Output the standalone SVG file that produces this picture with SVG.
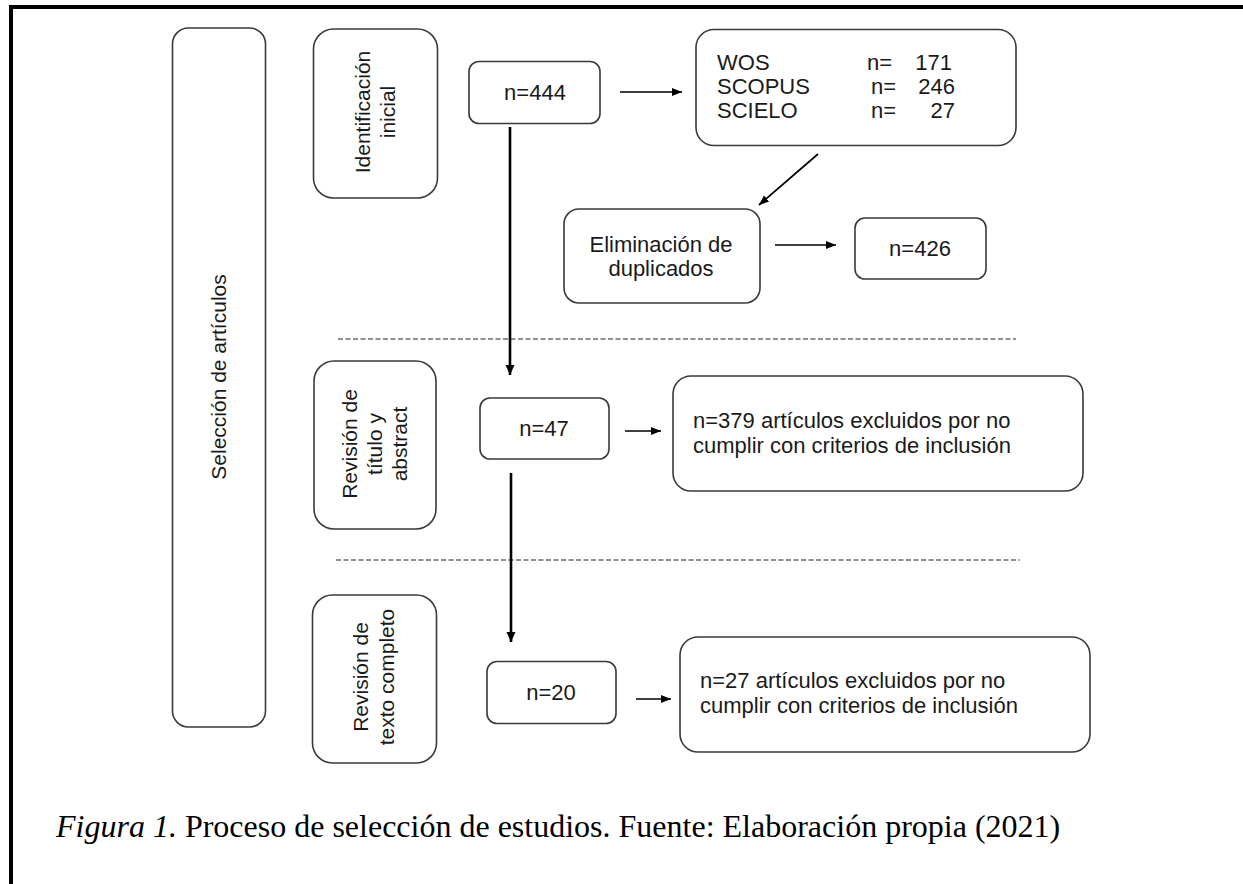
<svg xmlns="http://www.w3.org/2000/svg" width="1243" height="884" viewBox="0 0 1243 884">
  <style>
    .box { fill: #ffffff; stroke: #3a3a3a; stroke-width: 1.6; }
    .t { font-family: "Liberation Sans", Arial, sans-serif; font-size: 22px; fill: #1a1a1a; }
    .r { font-size: 21px; }
    .c { text-anchor: middle; }
    .conn { stroke: #000; fill: none; }
    .thin { stroke-width: 1.7; }
    .thick { stroke-width: 2.6; }
    .dash { stroke: #222; stroke-width: 1.2; stroke-dasharray: 5 2.5; fill: none; }
    .cap { font-family: "Liberation Serif", "Times New Roman", serif; font-size: 32px; fill: #000; }
  </style>
  <defs>
    <marker id="ah" markerUnits="userSpaceOnUse" markerWidth="12" markerHeight="10" refX="10" refY="5" orient="auto">
      <path d="M0,1 L10,5 L0,9 Z" fill="#000"/>
    </marker>
    <marker id="ahv" markerUnits="userSpaceOnUse" markerWidth="12" markerHeight="12" refX="10" refY="5" orient="auto">
      <path d="M0,0.5 L10,5 L0,9.5 Z" fill="#000"/>
    </marker>
  </defs>
  <rect x="0" y="0" width="1243" height="884" fill="#fff"/>
  <g id="frame">
    <rect x="9" y="5" width="1234" height="4" fill="#000"/>
    <rect x="9" y="5" width="4" height="879" fill="#000"/>
  </g>

  <g id="connectors">
    <line class="dash" x1="338" y1="339" x2="1016" y2="339"/>
    <line class="dash" x1="336" y1="560" x2="1020" y2="560"/>
    <line class="conn thin" x1="620" y1="92" x2="682" y2="92" marker-end="url(#ah)"/>
    <line class="conn thin" x1="818" y1="154" x2="759" y2="205" marker-end="url(#ah)"/>
    <line class="conn thin" x1="775" y1="245" x2="836" y2="245" marker-end="url(#ah)"/>
    <line class="conn thin" x1="625" y1="431" x2="661" y2="431" marker-end="url(#ah)"/>
    <line class="conn thin" x1="636" y1="699" x2="671" y2="699" marker-end="url(#ah)"/>
    <line class="conn thick" x1="510" y1="127" x2="510" y2="375" marker-end="url(#ahv)"/>
    <line class="conn thick" x1="511" y1="473" x2="511" y2="642" marker-end="url(#ahv)"/>
  </g>

  <g id="seleccion">
    <rect class="box" x="172.5" y="28" width="93" height="699" rx="16"/>
    <text class="t r c" transform="translate(226,377) rotate(-90)">Selección de artículos</text>
  </g>

  <g id="identificacion">
    <rect class="box" x="313.5" y="29" width="124" height="169" rx="20"/>
    <text class="t r c" transform="translate(369.5,112) rotate(-90)">Identificación</text>
    <text class="t r c" transform="translate(394.5,112) rotate(-90)">inicial</text>
  </g>

  <g id="n444">
    <rect class="box" x="469" y="61.5" width="131" height="62" rx="10"/>
    <text class="t c" x="535" y="100">n=444</text>
  </g>

  <g id="bases">
    <rect class="box" x="696" y="29.5" width="320" height="116" rx="18"/>
    <text class="t" x="717" y="70">WOS</text>
    <text class="t" x="717" y="94">SCOPUS</text>
    <text class="t" x="717" y="118">SCIELO</text>
    <text class="t" x="867" y="70">n=</text>
    <text class="t" x="871" y="94">n=</text>
    <text class="t" x="871" y="118">n=</text>
    <text class="t" x="952" y="70" text-anchor="end">171</text>
    <text class="t" x="955" y="94" text-anchor="end">246</text>
    <text class="t" x="955" y="118" text-anchor="end">27</text>
  </g>

  <g id="eliminacion">
    <rect class="box" x="564" y="209" width="196" height="94" rx="15"/>
    <text class="t c" x="661" y="252">Eliminación de</text>
    <text class="t c" x="661" y="276">duplicados</text>
  </g>

  <g id="n426">
    <rect class="box" x="855" y="218" width="131" height="61" rx="10"/>
    <text class="t c" x="920" y="256">n=426</text>
  </g>

  <g id="revision-titulo">
    <rect class="box" x="314" y="361" width="122" height="168" rx="20"/>
    <text class="t r c" transform="translate(357,444) rotate(-90)">Revisión de</text>
    <text class="t r c" transform="translate(382,444) rotate(-90)">título y</text>
    <text class="t r c" transform="translate(407,444) rotate(-90)">abstract</text>
  </g>

  <g id="n47">
    <rect class="box" x="480" y="398" width="129" height="61" rx="10"/>
    <text class="t c" x="544" y="436">n=47</text>
  </g>

  <g id="excl379">
    <rect class="box" x="673" y="376" width="410" height="115" rx="18"/>
    <text class="t" x="693" y="428">n=379 artículos excluidos por no</text>
    <text class="t" x="693" y="453">cumplir con criterios de inclusión</text>
  </g>

  <g id="revision-texto">
    <rect class="box" x="312.5" y="595" width="124" height="168" rx="20"/>
    <text class="t r c" transform="translate(368,677) rotate(-90)">Revisión de</text>
    <text class="t r c" transform="translate(394,677) rotate(-90)">texto completo</text>
  </g>

  <g id="n20">
    <rect class="box" x="487" y="661.5" width="129" height="62" rx="10"/>
    <text class="t c" x="551" y="700">n=20</text>
  </g>

  <g id="excl27">
    <rect class="box" x="680" y="637" width="410" height="115" rx="18"/>
    <text class="t" x="700" y="688">n=27 artículos excluidos por no</text>
    <text class="t" x="700" y="713">cumplir con criterios de inclusión</text>
  </g>

  <g id="caption">
    <text class="cap" x="56" y="837"><tspan font-style="italic">Figura 1.</tspan> Proceso de selección de estudios. Fuente: Elaboración propia (2021)</text>
  </g>
</svg>
